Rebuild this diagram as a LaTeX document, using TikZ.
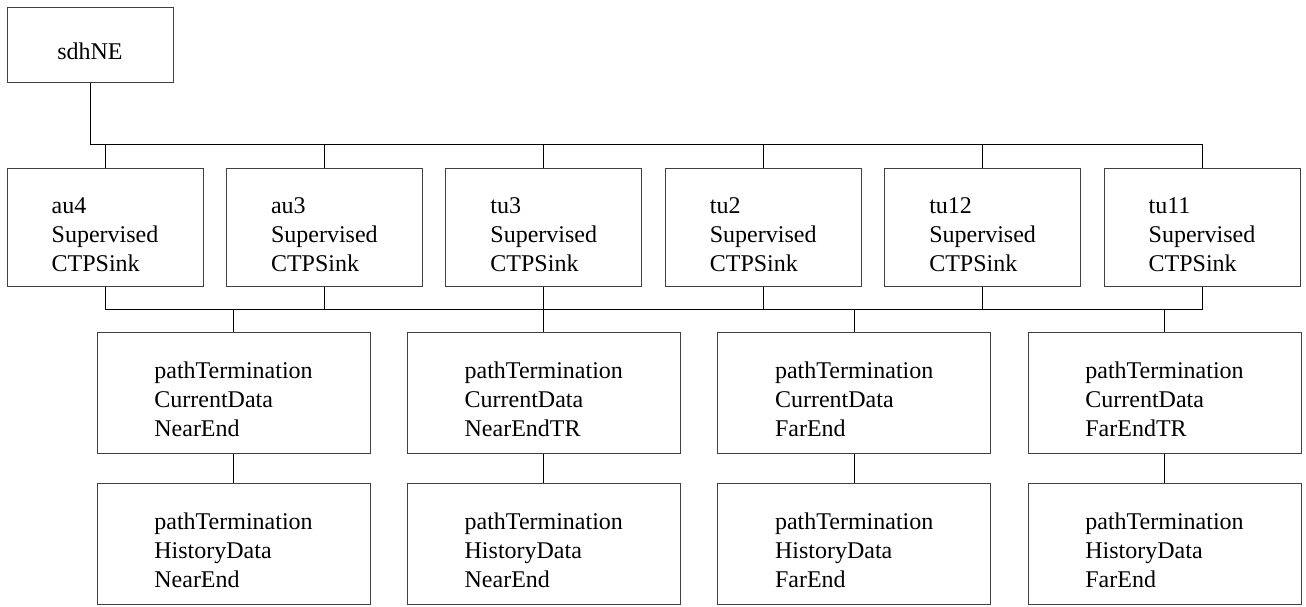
\documentclass[tikz,border=0pt]{standalone}
\usepackage{fontspec}
\setmainfont{LiberationSerif-Regular.ttf}
\newcommand{\topgap}{\rule{0pt}{15.5pt}}
\tikzset{
  mo/.style={draw=black!75, line width=0.5pt, align=left,
    font=\fontsize{12}{14.5}\selectfont},
  ctp/.style={mo, minimum width=98pt, minimum height=59pt},
  pm/.style={mo, minimum width=136.5pt, minimum height=60.5pt},
  link/.style={line width=0.5pt}
}
\begin{document}
\begin{tikzpicture}[x=0.5pt, y=-0.5pt]
                        \useasboundingbox (0,0) rectangle (1306,606);
                        \node[mo, minimum width=83pt, minimum height=37.5pt] (ne) at (90,44.5) {\topgap sdhNE};

                        % supervised CTP sinks
                        \node[ctp] (au4) at (105,227) {\topgap au4\\Supervised\\CTPSink};
                        \node[ctp] (au3) at (324.4,227) {\topgap au3\\Supervised\\CTPSink};
                        \node[ctp] (tu3) at (543.8,227) {\topgap tu3\\Supervised\\CTPSink};
                        \node[ctp] (tu2) at (763.2,227) {\topgap tu2\\Supervised\\CTPSink};
                        \node[ctp] (tu12) at (982.6,227) {\topgap tu12\\Supervised\\CTPSink};
                        \node[ctp] (tu11) at (1202,227) {\topgap tu11\\Supervised\\CTPSink};

                        % current data
                        \node[pm] (cne) at (233.5,392.5) {\topgap pathTermination\\CurrentData\\NearEnd};
                        \node[pm] (cnetr) at (543.8,392.5) {\topgap pathTermination\\CurrentData\\NearEndTR};
                        \node[pm] (cfe) at (854.2,392.5) {\topgap pathTermination\\CurrentData\\FarEnd};
                        \node[pm] (cfetr) at (1164.5,392.5) {\topgap pathTermination\\CurrentData\\FarEndTR};

                        % history data
                        \node[pm] (hne) at (233.5,543.5) {\topgap pathTermination\\HistoryData\\NearEnd};
                        \node[pm] (hnetr) at (543.8,543.5) {\topgap pathTermination\\HistoryData\\NearEnd};
                        \node[pm] (hfe) at (854.2,543.5) {\topgap pathTermination\\HistoryData\\FarEnd};
                        \node[pm] (hfetr) at (1164.5,543.5) {\topgap pathTermination\\HistoryData\\FarEnd};

                        \coordinate (upbus) at (0,144);
                        \coordinate (lowbus) at (0,309);

                        \draw[link] (ne.south) |- (tu11.north |- upbus) to (tu11.north);
                        \foreach \n in {au4,au3,tu3,tu2,tu12}
                            \draw[link] (\n.north) to (\n.north |- upbus);
                        \draw[link] (au4.south) |- (tu11.south |- lowbus) to (tu11.south);
                        \foreach \n in {au3,tu3,tu2,tu12}
                            \draw[link] (\n.south) to (\n.south |- lowbus);
                        \foreach \n in {cne,cnetr,cfe,cfetr}
                            \draw[link] (\n.north) to (\n.north |- lowbus);
                        \draw[link] (cne) to (hne);
                        \draw[link] (cnetr) to (hnetr);
                        \draw[link] (cfe) to (hfe);
                        \draw[link] (cfetr) to (hfetr);
                    \end{tikzpicture}
\end{document}
